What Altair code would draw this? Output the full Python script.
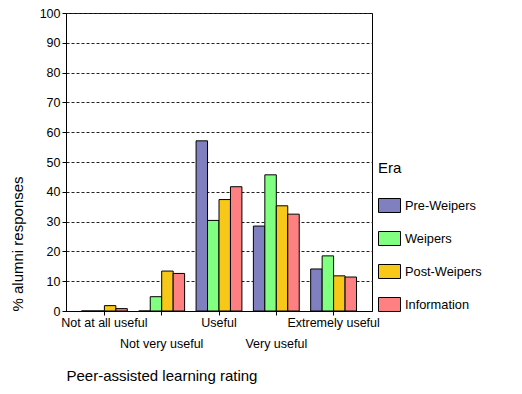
import altair as alt
import pandas as pd

categories = ["Not at all useful", "Not very useful", "Useful", "Very useful", "Extremely useful"]
eras = ["Pre-Weipers", "Weipers", "Post-Weipers", "Information"]
pre_weipers = [0, 0, 57.1, 28.5, 14.1]
weipers = [0, 4.8, 30.4, 45.7, 18.5]
post_weipers = [1.8, 13.4, 37.4, 35.3, 11.8]
information = [0.8, 12.6, 41.7, 32.5, 11.4]
colors = ["#8080C0", "#80FF80", "#F8C818", "#FF8080"]

rows = []
for era, vals in zip(eras, [pre_weipers, weipers, post_weipers, information]):
    for c, v in zip(categories, vals):
        rows.append({"rating": c, "era": era, "pct": v})
df = pd.DataFrame(rows)

font = "Liberation Sans"

chart = alt.Chart(df).mark_bar(stroke="black", strokeWidth=1).encode(
    x=alt.X(
        "rating:N",
        sort=categories,
        scale=alt.Scale(paddingInner=0.2, paddingOuter=0.27),
        axis=alt.Axis(
            title="Peer-assisted learning rating",
            titleAnchor="start",
            titleFontWeight="normal",
            titleFontSize=15,
            titleFont=font,
            titleColor="black",
            titlePadding=19,
            labelAngle=0,
            labelFont=font,
            labelFontSize=12.5,
            labelColor="black",
            labelPadding=1,
            labelLineHeight=21,
            labelExpr="(datum.value == 'Not very useful' || datum.value == 'Very useful') ? ['', datum.label] : datum.label",
            tickColor="black",
            tickSize=4,
            domain=True,
            domainColor="black",
            labelOverlap=False,
        ),
    ),
    xOffset=alt.XOffset("era:N", sort=eras),
    y=alt.Y(
        "pct:Q",
        scale=alt.Scale(domain=[0, 100], nice=False),
        axis=alt.Axis(
            title="% alumni responses",
            titleAnchor="start",
            titleFontWeight="normal",
            titleFontSize=15,
            titleFont=font,
            titleColor="black",
            titlePadding=14,
            values=list(range(0, 101, 10)),
            labelFont=font,
            labelFontSize=12.5,
            labelColor="black",
            tickColor="black",
            tickSize=4,
            domain=True,
            domainColor="black",
            grid=True,
            gridColor="#222222",
            gridDash=[3, 2],
            gridWidth=1,
        ),
    ),
    color=alt.Color(
        "era:N",
        sort=eras,
        scale=alt.Scale(domain=eras, range=colors),
        legend=alt.Legend(
            title="Era",
            orient="none",
            legendX=312,
            legendY=148,
            titleFont=font,
            titleFontSize=15,
            titleFontWeight="normal",
            titleColor="black",
            titlePadding=18,
            labelFont=font,
            labelFontSize=12.8,
            labelColor="black",
            symbolType="M-1,-0.636H1V0.636H-1Z",
            symbolSize=484,
            symbolStrokeColor="black",
            symbolStrokeWidth=1,
            symbolOpacity=1,
            rowPadding=12,
            labelOffset=4,
        ),
    ),
).properties(
    width=306,
    height=298,
    background="white",
    autosize=alt.AutoSizeParams(type="none"),
    padding={"left": 58, "top": 5, "right": 142, "bottom": 75},
).configure_view(
    stroke="black", strokeWidth=1
)

chart.save("out.html", embed_options={"renderer": "svg", "actions": False})
